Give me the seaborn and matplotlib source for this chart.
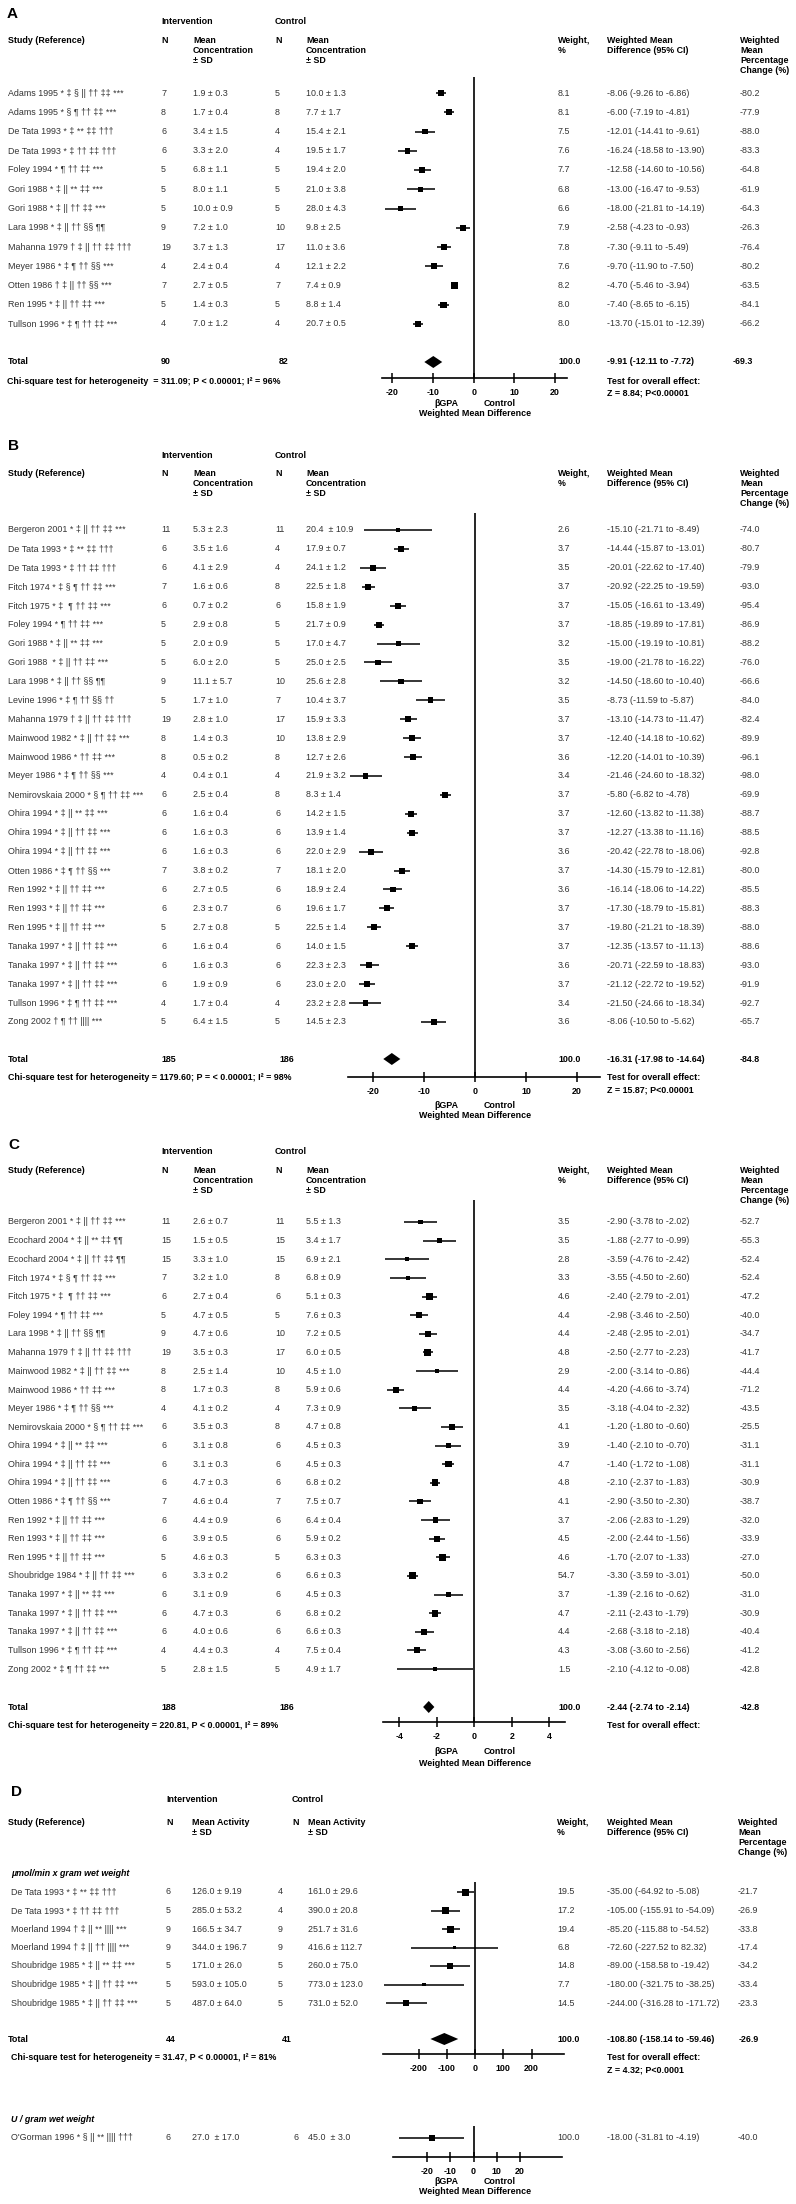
import matplotlib.pyplot as plt
import numpy as np
import seaborn as sns

sns.set_style("white")
plt.rcParams["font.family"] = ["Liberation Sans", "DejaVu Sans"]
plt.rcParams["axes.unicode_minus"] = False

W, H = 796, 2204
FS = 6.4
GREY = "#333333"

# ---------------- panel A: concentration, first outcome ----------------
a_study = [
    "Adams 1995 * ‡ § || †† ‡‡ ***", "Adams 1995 * § ¶ †† ‡‡ ***",
    "De Tata 1993 * ‡ ** ‡‡ †††", "De Tata 1993 * ‡ †† ‡‡ †††",
    "Foley 1994 * ¶ †† ‡‡ ***", "Gori 1988 * ‡ || ** ‡‡ ***",
    "Gori 1988 * ‡ || †† ‡‡ ***", "Lara 1998 * ‡ || †† §§ ¶¶",
    "Mahanna 1979 † ‡ || †† ‡‡ †††", "Meyer 1986 * ‡ ¶ †† §§ ***",
    "Otten 1986 † ‡ || †† §§ ***", "Ren 1995 * ‡ || †† ‡‡ ***",
    "Tullson 1996 * ‡ ¶ †† ‡‡ ***",
]
a_n_int = [7, 8, 6, 6, 5, 5, 5, 9, 19, 4, 7, 5, 4]
a_int = ["1.9 ± 0.3", "1.7 ± 0.4", "3.4 ± 1.5", "3.3 ± 2.0", "6.8 ± 1.1", "8.0 ± 1.1",
         "10.0 ± 0.9", "7.2 ± 1.0", "3.7 ± 1.3", "2.4 ± 0.4", "2.7 ± 0.5", "1.4 ± 0.3",
         "7.0 ± 1.2"]
a_n_ctl = [5, 8, 4, 4, 5, 5, 5, 10, 17, 4, 7, 5, 4]
a_ctl = ["10.0 ± 1.3", "7.7 ± 1.7", "15.4 ± 2.1", "19.5 ± 1.7", "19.4 ± 2.0", "21.0 ± 3.8",
         "28.0 ± 4.3", "9.8 ± 2.5", "11.0 ± 3.6", "12.1 ± 2.2", "7.4 ± 0.9", "8.8 ± 1.4",
         "20.7 ± 0.5"]
a_weight = [8.1, 8.1, 7.5, 7.6, 7.7, 6.8, 6.6, 7.9, 7.8, 7.6, 8.2, 8.0, 8.0]
a_est = [-8.06, -6.00, -12.01, -16.24, -12.58, -13.00, -18.00, -2.58, -7.30, -9.70, -4.70, -7.40, -13.70]
a_lo = [-9.26, -7.19, -14.41, -18.58, -14.60, -16.47, -21.81, -4.23, -9.11, -11.90, -5.46, -8.65, -15.01]
a_hi = [-6.86, -4.81, -9.61, -13.90, -10.56, -9.53, -14.19, -0.93, -5.49, -7.50, -3.94, -6.15, -12.39]
a_pct = [-80.2, -77.9, -88.0, -83.3, -64.8, -61.9, -64.3, -26.3, -76.4, -80.2, -63.5, -84.1, -66.2]
a_total_n = (90, 82)
a_total = (-9.91, -12.11, -7.72)
a_total_pct = -69.3
a_chi = "Chi-square test for heterogeneity  = 311.09; P < 0.00001; I² = 96%"
a_z = "Z = 8.84; P<0.00001"

# ---------------- panel B ----------------
b_study = [
    "Bergeron 2001 * ‡ || †† ‡‡ ***", "De Tata 1993 * ‡ ** ‡‡ †††",
    "De Tata 1993 * ‡ †† ‡‡ †††", "Fitch 1974 * ‡ § ¶ †† ‡‡ ***",
    "Fitch 1975 * ‡  ¶ †† ‡‡ ***", "Foley 1994 * ¶ †† ‡‡ ***",
    "Gori 1988 * ‡ || ** ‡‡ ***", "Gori 1988  * ‡ || †† ‡‡ ***",
    "Lara 1998 * ‡ || †† §§ ¶¶", "Levine 1996 * ‡ ¶ †† §§ ††",
    "Mahanna 1979 † ‡ || †† ‡‡ †††", "Mainwood 1982 * ‡ || †† ‡‡ ***",
    "Mainwood 1986 * †† ‡‡ ***", "Meyer 1986 * ‡ ¶ †† §§ ***",
    "Nemirovskaia 2000 * § ¶ †† ‡‡ ***", "Ohira 1994 * ‡ || ** ‡‡ ***",
    "Ohira 1994 * ‡ || †† ‡‡ ***", "Ohira 1994 * ‡ || †† ‡‡ ***",
    "Otten 1986 * ‡ ¶ †† §§ ***", "Ren 1992 * ‡ || †† ‡‡ ***",
    "Ren 1993 * ‡ || †† ‡‡ ***", "Ren 1995 * ‡ || †† ‡‡ ***",
    "Tanaka 1997 * ‡ || †† ‡‡ ***", "Tanaka 1997 * ‡ || †† ‡‡ ***",
    "Tanaka 1997 * ‡ || †† ‡‡ ***", "Tullson 1996 * ‡ ¶ †† ‡‡ ***",
    "Zong 2002 † ¶ †† |||| ***",
]
b_n_int = [11, 6, 6, 7, 6, 5, 5, 5, 9, 5, 19, 8, 8, 4, 6, 6, 6, 6, 7, 6, 6, 5, 6, 6, 6, 4, 5]
b_int = ["5.3 ± 2.3", "3.5 ± 1.6", "4.1 ± 2.9", "1.6 ± 0.6", "0.7 ± 0.2", "2.9 ± 0.8",
         "2.0 ± 0.9", "6.0 ± 2.0", "11.1 ± 5.7", "1.7 ± 1.0", "2.8 ± 1.0", "1.4 ± 0.3",
         "0.5 ± 0.2", "0.4 ± 0.1", "2.5 ± 0.4", "1.6 ± 0.4", "1.6 ± 0.3", "1.6 ± 0.3",
         "3.8 ± 0.2", "2.7 ± 0.5", "2.3 ± 0.7", "2.7 ± 0.8", "1.6 ± 0.4", "1.6 ± 0.3",
         "1.9 ± 0.9", "1.7 ± 0.4", "6.4 ± 1.5"]
b_n_ctl = [11, 4, 4, 8, 6, 5, 5, 5, 10, 7, 17, 10, 8, 4, 8, 6, 6, 6, 7, 6, 6, 5, 6, 6, 6, 4, 5]
b_ctl = ["20.4  ± 10.9", "17.9 ± 0.7", "24.1 ± 1.2", "22.5 ± 1.8", "15.8 ± 1.9", "21.7 ± 0.9",
         "17.0 ± 4.7", "25.0 ± 2.5", "25.6 ± 2.8", "10.4 ± 3.7", "15.9 ± 3.3", "13.8 ± 2.9",
         "12.7 ± 2.6", "21.9 ± 3.2", "8.3 ± 1.4", "14.2 ± 1.5", "13.9 ± 1.4", "22.0 ± 2.9",
         "18.1 ± 2.0", "18.9 ± 2.4", "19.6 ± 1.7", "22.5 ± 1.4", "14.0 ± 1.5", "22.3 ± 2.3",
         "23.0 ± 2.0", "23.2 ± 2.8", "14.5 ± 2.3"]
b_weight = [2.6, 3.7, 3.5, 3.7, 3.7, 3.7, 3.2, 3.5, 3.2, 3.5, 3.7, 3.7, 3.6, 3.4, 3.7,
            3.7, 3.7, 3.6, 3.7, 3.6, 3.7, 3.7, 3.7, 3.6, 3.7, 3.4, 3.6]
b_est = [-15.10, -14.44, -20.01, -20.92, -15.05, -18.85, -15.00, -19.00, -14.50, -8.73,
         -13.10, -12.40, -12.20, -21.46, -5.80, -12.60, -12.27, -20.42, -14.30, -16.14,
         -17.30, -19.80, -12.35, -20.71, -21.12, -21.50, -8.06]
b_lo = [-21.71, -15.87, -22.62, -22.25, -16.61, -19.89, -19.19, -21.78, -18.60, -11.59,
        -14.73, -14.18, -14.01, -24.60, -6.82, -13.82, -13.38, -22.78, -15.79, -18.06,
        -18.79, -21.21, -13.57, -22.59, -22.72, -24.66, -10.50]
b_hi = [-8.49, -13.01, -17.40, -19.59, -13.49, -17.81, -10.81, -16.22, -10.40, -5.87,
        -11.47, -10.62, -10.39, -18.32, -4.78, -11.38, -11.16, -18.06, -12.81, -14.22,
        -15.81, -18.39, -11.13, -18.83, -19.52, -18.34, -5.62]
b_pct = [-74.0, -80.7, -79.9, -93.0, -95.4, -86.9, -88.2, -76.0, -66.6, -84.0, -82.4, -89.9,
         -96.1, -98.0, -69.9, -88.7, -88.5, -92.8, -80.0, -85.5, -88.3, -88.0, -88.6, -93.0,
         -91.9, -92.7, -65.7]
b_total_n = (185, 186)
b_total = (-16.31, -17.98, -14.64)
b_total_pct = -84.8
b_chi = "Chi-square test for heterogeneity = 1179.60; P = < 0.00001; I² = 98%"
b_z = "Z = 15.87; P<0.00001"

# ---------------- panel C ----------------
c_study = [
    "Bergeron 2001 * ‡ || †† ‡‡ ***", "Ecochard 2004 * ‡ || ** ‡‡ ¶¶",
    "Ecochard 2004 * ‡ || †† ‡‡ ¶¶", "Fitch 1974 * ‡ § ¶ †† ‡‡ ***",
    "Fitch 1975 * ‡  ¶ †† ‡‡ ***", "Foley 1994 * ¶ †† ‡‡ ***",
    "Lara 1998 * ‡ || †† §§ ¶¶", "Mahanna 1979 † ‡ || †† ‡‡ †††",
    "Mainwood 1982 * ‡ || †† ‡‡ ***", "Mainwood 1986 * †† ‡‡ ***",
    "Meyer 1986 * ‡ ¶ †† §§ ***", "Nemirovskaia 2000 * § ¶ †† ‡‡ ***",
    "Ohira 1994 * ‡ || ** ‡‡ ***", "Ohira 1994 * ‡ || †† ‡‡ ***",
    "Ohira 1994 * ‡ || †† ‡‡ ***", "Otten 1986 * ‡ ¶ †† §§ ***",
    "Ren 1992 * ‡ || †† ‡‡ ***", "Ren 1993 * ‡ || †† ‡‡ ***",
    "Ren 1995 * ‡ || †† ‡‡ ***", "Shoubridge 1984 * ‡ || †† ‡‡ ***",
    "Tanaka 1997 * ‡ || ** ‡‡ ***", "Tanaka 1997 * ‡ || †† ‡‡ ***",
    "Tanaka 1997 * ‡ || †† ‡‡ ***", "Tullson 1996 * ‡ ¶ †† ‡‡ ***",
    "Zong 2002 * ‡ ¶ †† ‡‡ ***",
]
c_n_int = [11, 15, 15, 7, 6, 5, 9, 19, 8, 8, 4, 6, 6, 6, 6, 7, 6, 6, 5, 6, 6, 6, 6, 4, 5]
c_int = ["2.6 ± 0.7", "1.5 ± 0.5", "3.3 ± 1.0", "3.2 ± 1.0", "2.7 ± 0.4", "4.7 ± 0.5",
         "4.7 ± 0.6", "3.5 ± 0.3", "2.5 ± 1.4", "1.7 ± 0.3", "4.1 ± 0.2", "3.5 ± 0.3",
         "3.1 ± 0.8", "3.1 ± 0.3", "4.7 ± 0.3", "4.6 ± 0.4", "4.4 ± 0.9", "3.9 ± 0.5",
         "4.6 ± 0.3", "3.3 ± 0.2", "3.1 ± 0.9", "4.7 ± 0.3", "4.0 ± 0.6", "4.4 ± 0.3",
         "2.8 ± 1.5"]
c_n_ctl = [11, 15, 15, 8, 6, 5, 10, 17, 10, 8, 4, 8, 6, 6, 6, 7, 6, 6, 5, 6, 6, 6, 6, 4, 5]
c_ctl = ["5.5 ± 1.3", "3.4 ± 1.7", "6.9 ± 2.1", "6.8 ± 0.9", "5.1 ± 0.3", "7.6 ± 0.3",
         "7.2 ± 0.5", "6.0 ± 0.5", "4.5 ± 1.0", "5.9 ± 0.6", "7.3 ± 0.9", "4.7 ± 0.8",
         "4.5 ± 0.3", "4.5 ± 0.3", "6.8 ± 0.2", "7.5 ± 0.7", "6.4 ± 0.4", "5.9 ± 0.2",
         "6.3 ± 0.3", "6.6 ± 0.3", "4.5 ± 0.3", "6.8 ± 0.2", "6.6 ± 0.3", "7.5 ± 0.4",
         "4.9 ± 1.7"]
c_weight = [3.5, 3.5, 2.8, 3.3, 4.6, 4.4, 4.4, 4.8, 2.9, 4.4, 3.5, 4.1, 3.9, 4.7, 4.8,
            4.1, 3.7, 4.5, 4.6, 54.7, 3.7, 4.7, 4.4, 4.3, 1.5]
c_est = [-2.90, -1.88, -3.59, -3.55, -2.40, -2.98, -2.48, -2.50, -2.00, -4.20, -3.18, -1.20,
         -1.40, -1.40, -2.10, -2.90, -2.06, -2.00, -1.70, -3.30, -1.39, -2.11, -2.68, -3.08,
         -2.10]
c_lo = [-3.78, -2.77, -4.76, -4.50, -2.79, -3.46, -2.95, -2.77, -3.14, -4.66, -4.04, -1.80,
        -2.10, -1.72, -2.37, -3.50, -2.83, -2.44, -2.07, -3.59, -2.16, -2.43, -3.18, -3.60,
        -4.12]
c_hi = [-2.02, -0.99, -2.42, -2.60, -2.01, -2.50, -2.01, -2.23, -0.86, -3.74, -2.32, -0.60,
        -0.70, -1.08, -1.83, -2.30, -1.29, -1.56, -1.33, -3.01, -0.62, -1.79, -2.18, -2.56,
        -0.08]
c_pct = [-52.7, -55.3, -52.4, -52.4, -47.2, -40.0, -34.7, -41.7, -44.4, -71.2, -43.5, -25.5,
         -31.1, -31.1, -30.9, -38.7, -32.0, -33.9, -27.0, -50.0, -31.0, -30.9, -40.4, -41.2,
         -42.8]
c_total_n = (188, 186)
c_total = (-2.44, -2.74, -2.14)
c_total_pct = -42.8
c_chi = "Chi-square test for heterogeneity = 220.81, P < 0.00001, I² = 89%"

# ---------------- panel D: enzyme activity ----------------
d_study = [
    "De Tata 1993 * ‡ ** ‡‡ †††", "De Tata 1993 * ‡ †† ‡‡ †††",
    "Moerland 1994 † ‡ || ** |||| ***", "Moerland 1994 † ‡ || †† |||| ***",
    "Shoubridge 1985 * ‡ || ** ‡‡ ***", "Shoubridge 1985 * ‡ || †† ‡‡ ***",
    "Shoubridge 1985 * ‡ || †† ‡‡ ***",
]
d_n_int = [6, 5, 9, 9, 5, 5, 5]
d_int = ["126.0 ± 9.19", "285.0 ± 53.2", "166.5 ± 34.7", "344.0 ± 196.7", "171.0 ± 26.0",
         "593.0 ± 105.0", "487.0 ± 64.0"]
d_n_ctl = [4, 4, 9, 9, 5, 5, 5]
d_ctl = ["161.0 ± 29.6", "390.0 ± 20.8", "251.7 ± 31.6", "416.6 ± 112.7", "260.0 ± 75.0",
         "773.0 ± 123.0", "731.0 ± 52.0"]
d_weight = [19.5, 17.2, 19.4, 6.8, 14.8, 7.7, 14.5]
d_est = [-35.00, -105.00, -85.20, -72.60, -89.00, -180.00, -244.00]
d_lo = [-64.92, -155.91, -115.88, -227.52, -158.58, -321.75, -316.28]
d_hi = [-5.08, -54.09, -54.52, 82.32, -19.42, -38.25, -171.72]
d_pct = [-21.7, -26.9, -33.8, -17.4, -34.2, -33.4, -23.3]
d_total_n = (44, 41)
d_total = (-108.80, -158.14, -59.46)
d_total_pct = -26.9
d_chi = "Chi-square test for heterogeneity = 31.47, P < 0.00001, I² = 81%"
d_z = "Z = 4.32; P<0.0001"

e_study = ["O'Gorman 1996 * § || ** |||| †††"]
e_n_int = [6]
e_int = ["27.0  ± 17.0"]
e_n_ctl = [6]
e_ctl = ["45.0  ± 3.0"]
e_weight = [100.0]
e_est = [-18.00]
e_lo = [-31.81]
e_hi = [-4.19]
e_pct = [-40.0]


def put(bg, x, y, s, bold=False, size=FS, va="center", ha="left", style="normal"):
    bg.text(x, y, s, fontsize=size, fontweight="bold" if bold else "normal",
            fontstyle=style, color="black" if bold else GREY,
            va=va, ha=ha, linespacing=1.15)


def header(bg, cols, y_grp, y_col, mean_label, ctl_n_x=None):
    put(bg, cols[1], y_grp, "Intervention", bold=True)
    put(bg, ctl_n_x or cols[3], y_grp, "Control", bold=True)
    top = y_col - 5
    put(bg, 8, top, "Study (Reference)", bold=True, va="top")
    put(bg, cols[1], top, "N", bold=True, va="top")
    put(bg, cols[2], top, mean_label, bold=True, va="top")
    put(bg, ctl_n_x or cols[3], top, "N", bold=True, va="top")
    put(bg, cols[4], top, mean_label, bold=True, va="top")
    put(bg, cols[5], top, "Weight,\n%", bold=True, va="top")
    put(bg, cols[6], top, "Weighted Mean\nDifference (95% CI)", bold=True, va="top")
    put(bg, cols[7], top, "Weighted\nMean\nPercentage\nChange (%)", bold=True, va="top")


def table(bg, cols, ys, study, n_int, int_ms, n_ctl, ctl_ms, weight, est, lo, hi, pct):
    for i, y in enumerate(ys):
        put(bg, cols[0], y, study[i])
        put(bg, cols[1], y, str(n_int[i]))
        put(bg, cols[2], y, int_ms[i])
        put(bg, cols[3], y, str(n_ctl[i]))
        put(bg, cols[4], y, ctl_ms[i])
        put(bg, cols[5], y, f"{weight[i]:.1f}")
        put(bg, cols[6], y, f"{est[i]:.2f} ({lo[i]:.2f} to {hi[i]:.2f})")
        put(bg, cols[7], y, f"{pct[i]:.1f}")


def totals(bg, cols, y, total_n, total, total_pct, pct_x):
    put(bg, 8, y, "Total", bold=True)
    put(bg, cols[1], y, str(total_n[0]), bold=True)
    put(bg, cols[3] + 4, y, str(total_n[1]), bold=True)
    put(bg, cols[5], y, "100.0", bold=True)
    put(bg, cols[6], y, f"{total[0]:.2f} ({total[1]:.2f} to {total[2]:.2f})", bold=True)
    put(bg, pct_x, y, f"{total_pct:.1f}", bold=True)


def forest(fig, box, xlim, ticks, ys, est, lo, hi, weight, total=None, total_y=None):
    x0, x1, y0, y1 = box
    ax = fig.add_axes([x0 / W, 1 - y1 / H, (x1 - x0) / W, (y1 - y0) / H])
    side = np.clip(6 * np.asarray(weight) / np.median(weight), 3.5, 7) * 0.72
    ax.hlines(ys, lo, hi, color="black", lw=1.1)
    sns.scatterplot(x=est, y=ys, marker="s", s=side ** 2, color="black",
                    linewidth=0, legend=False, ax=ax)
    if total is not None:
        e, l, h = total
        ax.fill([l, e, h, e], [total_y, total_y - 6, total_y, total_y + 6],
                color="black", lw=0)
    ax.axvline(0, color="black", lw=1.2)
    ax.set_xlim(xlim)
    ax.set_ylim(y1, y0)
    ax.set_yticks([])
    ax.set_xticks(ticks, labels=[str(t) for t in ticks], fontsize=FS, fontweight="bold")
    ax.tick_params(axis="x", bottom=True, direction="inout", length=7, width=1.1,
                   pad=4, colors="black")
    ax.set_xlabel("")
    ax.set_ylabel("")
    sns.despine(ax=ax, left=True)
    ax.spines["bottom"].set_color("black")
    ax.spines["bottom"].set_linewidth(1.2)
    ax.patch.set_visible(False)
    return ax


def axis_caption(bg, y):
    put(bg, 446, y, "βGPA", bold=True, ha="center")
    put(bg, 500, y, "Control", bold=True, ha="center")
    put(bg, 475, y + 11, "Weighted Mean Difference", bold=True, ha="center")


def main():
    fig = plt.figure(figsize=(W / 100, H / 100), dpi=100)
    bg = fig.add_axes([0, 0, 1, 1])
    bg.set_xlim(0, W)
    bg.set_ylim(H, 0)
    bg.axis("off")

    cols = [8, 161, 193, 275, 306, 558, 607, 740]
    conc = "Mean\nConcentration\n± SD"

    # A
    put(bg, 7, 14, "A", bold=True, size=11)
    header(bg, cols, 22, 41, conc)
    ys = 93 + 19.25 * np.arange(len(a_study))
    table(bg, cols, ys, a_study, a_n_int, a_int, a_n_ctl, a_ctl, a_weight, a_est, a_lo, a_hi, a_pct)
    totals(bg, cols, 362, a_total_n, a_total, a_total_pct, 733)
    put(bg, 7, 381, a_chi, bold=True)
    put(bg, 607, 381, "Test for overall effect:", bold=True)
    put(bg, 607, 393, a_z, bold=True)
    forest(fig, (382, 567, 77, 378), (-22.5, 22.9), [-20, -10, 0, 10, 20],
           ys, a_est, a_lo, a_hi, a_weight, a_total, 362)
    axis_caption(bg, 403)

    # B
    put(bg, 8, 446, "B", bold=True, size=11)
    header(bg, cols, 456, 474, conc)
    ys = 530 + 18.92 * np.arange(len(b_study))
    table(bg, cols, ys, b_study, b_n_int, b_int, b_n_ctl, b_ctl, b_weight, b_est, b_lo, b_hi, b_pct)
    totals(bg, cols, 1059, b_total_n, b_total, b_total_pct, 740)
    put(bg, 8, 1077, b_chi, bold=True)
    put(bg, 607, 1077, "Test for overall effect:", bold=True)
    put(bg, 607, 1090, b_z, bold=True)
    forest(fig, (348, 600, 513, 1077), (-24.9, 24.5), [-20, -10, 0, 10, 20],
           ys, b_est, b_lo, b_hi, b_weight, b_total, 1059)
    axis_caption(bg, 1105)

    # C
    put(bg, 8, 1145, "C", bold=True, size=11)
    header(bg, cols, 1152, 1171, conc)
    ys = 1222 + 18.63 * np.arange(len(c_study))
    table(bg, cols, ys, c_study, c_n_int, c_int, c_n_ctl, c_ctl, c_weight, c_est, c_lo, c_hi, c_pct)
    totals(bg, cols, 1707, c_total_n, c_total, c_total_pct, 740)
    put(bg, 8, 1725, c_chi, bold=True)
    put(bg, 607, 1725, "Test for overall effect:", bold=True)
    forest(fig, (383, 565, 1200, 1722), (-4.88, 4.83), [-4, -2, 0, 2, 4],
           ys, c_est, c_lo, c_hi, c_weight, c_total, 1707)
    axis_caption(bg, 1752)

    # D
    dcols = [11, 166, 192, 278, 308, 557, 607, 738]
    put(bg, 11, 1792, "D", bold=True, size=11)
    header(bg, dcols, 1799, 1823, "Mean Activity\n± SD", ctl_n_x=292)
    put(bg, 11, 1873, "µmol/min x gram wet weight", bold=True, style="italic")
    ys = 1892 + 18.5 * np.arange(len(d_study))
    table(bg, dcols, ys, d_study, d_n_int, d_int, d_n_ctl, d_ctl, d_weight, d_est, d_lo, d_hi, d_pct)
    totals(bg, dcols, 2039, d_total_n, d_total, d_total_pct, 739)
    put(bg, 11, 2058, d_chi, bold=True)
    put(bg, 607, 2058, "Test for overall effect:", bold=True)
    put(bg, 607, 2070, d_z, bold=True)
    forest(fig, (383, 564, 1882, 2054), (-326, 315), [-200, -100, 0, 100, 200],
           ys, d_est, d_lo, d_hi, d_weight, d_total, 2039)

    put(bg, 11, 2120, "U / gram wet weight", bold=True, style="italic")
    ecols = [11, 166, 192, 294, 308, 557, 607, 738]
    ys = np.array([2138.0])
    table(bg, ecols, ys, e_study, e_n_int, e_int, e_n_ctl, e_ctl, e_weight, e_est, e_lo, e_hi, e_pct)
    forest(fig, (393, 562, 2126, 2157), (-34.6, 38), [-20, -10, 0, 10, 20],
           ys, e_est, e_lo, e_hi, e_weight)
    axis_caption(bg, 2181)

    fig.savefig("out.png", dpi=100, facecolor="white")


if __name__ == "__main__":
    main()
